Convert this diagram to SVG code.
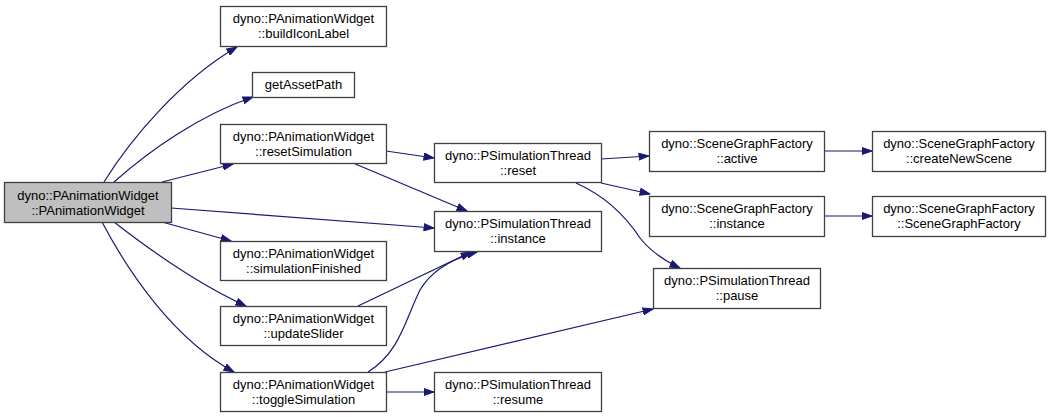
<svg xmlns="http://www.w3.org/2000/svg" width="1052" height="417" viewBox="0 0 1052 417">
<style>
.n rect{fill:#ffffff;stroke:#404040;stroke-width:1.3}
.n.g rect{fill:#bfbfbf}
.n text{font-family:"Liberation Sans",Arial,Helvetica,sans-serif;font-size:13px;fill:#000;text-anchor:middle}
#edges path{fill:none;stroke:#191970;stroke-width:1.2;marker-end:url(#ah)}
</style>
<defs>
<marker id="ah" markerUnits="userSpaceOnUse" markerWidth="11" markerHeight="8" refX="10.5" refY="4" orient="auto" viewBox="0 0 11 8">
<path d="M0.5,0.5 L10.5,4 L0.5,7.5 z" fill="#191970" stroke="#191970" stroke-width="1"/>
</marker>
</defs>
<rect width="1052" height="417" fill="#ffffff"/>
<g id="edges">
<path d="M104,182 C130,140 180,80 237,47"/>
<path d="M114,182 C150,150 200,115 253,97"/>
<path d="M162,182 L233,164"/>
<path d="M171,208 L434,228"/>
<path d="M162,222 L231,241"/>
<path d="M114,222 C150,250 200,285 246,306"/>
<path d="M102,222 C130,275 175,340 234,372"/>
<path d="M386,151 L434,158"/>
<path d="M353,163 L467,211"/>
<path d="M358,306 L471,252"/>
<path d="M368,372 C400,352 405,320 420,290 C433,268 455,258 477,252"/>
<path d="M385,372 L653,309"/>
<path d="M386,392 L434,392"/>
<path d="M601,159 L649,156"/>
<path d="M601,183 L650,194"/>
<path d="M576,183 C605,196 625,215 640,238 C652,253 665,261 680,268"/>
<path d="M824,151 L872,151"/>
<path d="M824,216 L872,216"/>
</g>
<g id="node-main" class="n g"><rect x="4.5" y="182.5" width="167" height="40"/><text x="88" y="199.5">dyno::PAnimationWidget</text><text x="88" y="214.5">::PAnimationWidget</text></g>
<g id="node-buildIconLabel" class="n"><rect x="220.5" y="6.5" width="166" height="40"/><text x="303.5" y="23">dyno::PAnimationWidget</text><text x="303.5" y="38">::buildIconLabel</text></g>
<g id="node-getAssetPath" class="n"><rect x="252.5" y="72.5" width="102" height="25"/><text x="303.5" y="89">getAssetPath</text></g>
<g id="node-resetSimulation" class="n"><rect x="220.5" y="124.5" width="166" height="39"/><text x="303.5" y="141">dyno::PAnimationWidget</text><text x="303.5" y="156">::resetSimulation</text></g>
<g id="node-simulationFinished" class="n"><rect x="220.5" y="241.5" width="166" height="39"/><text x="303.5" y="258">dyno::PAnimationWidget</text><text x="303.5" y="273">::simulationFinished</text></g>
<g id="node-updateSlider" class="n"><rect x="220.5" y="306.5" width="166" height="39"/><text x="303.5" y="323">dyno::PAnimationWidget</text><text x="303.5" y="338">::updateSlider</text></g>
<g id="node-toggleSimulation" class="n"><rect x="220.5" y="372.5" width="166" height="39"/><text x="303.5" y="389">dyno::PAnimationWidget</text><text x="303.5" y="404">::toggleSimulation</text></g>
<g id="node-thread-reset" class="n"><rect x="434.5" y="143.5" width="167" height="39"/><text x="518" y="160">dyno::PSimulationThread</text><text x="518" y="175">::reset</text></g>
<g id="node-thread-instance" class="n"><rect x="434.5" y="211.5" width="167" height="40"/><text x="518" y="228">dyno::PSimulationThread</text><text x="518" y="243">::instance</text></g>
<g id="node-thread-resume" class="n"><rect x="434.5" y="372.5" width="167" height="39"/><text x="518" y="389">dyno::PSimulationThread</text><text x="518" y="404">::resume</text></g>
<g id="node-sgf-active" class="n"><rect x="649.5" y="131.5" width="175" height="40"/><text x="737" y="148">dyno::SceneGraphFactory</text><text x="737" y="163">::active</text></g>
<g id="node-sgf-instance" class="n"><rect x="649.5" y="196.5" width="175" height="40"/><text x="737" y="213">dyno::SceneGraphFactory</text><text x="737" y="228">::instance</text></g>
<g id="node-thread-pause" class="n"><rect x="653.5" y="268.5" width="167" height="40"/><text x="737" y="285">dyno::PSimulationThread</text><text x="737" y="300">::pause</text></g>
<g id="node-sgf-createNewScene" class="n"><rect x="872.5" y="131.5" width="173" height="40"/><text x="959" y="148">dyno::SceneGraphFactory</text><text x="959" y="163">::createNewScene</text></g>
<g id="node-sgf-ctor" class="n"><rect x="872.5" y="196.5" width="173" height="40"/><text x="959" y="213">dyno::SceneGraphFactory</text><text x="959" y="228">::SceneGraphFactory</text></g>
</svg>
